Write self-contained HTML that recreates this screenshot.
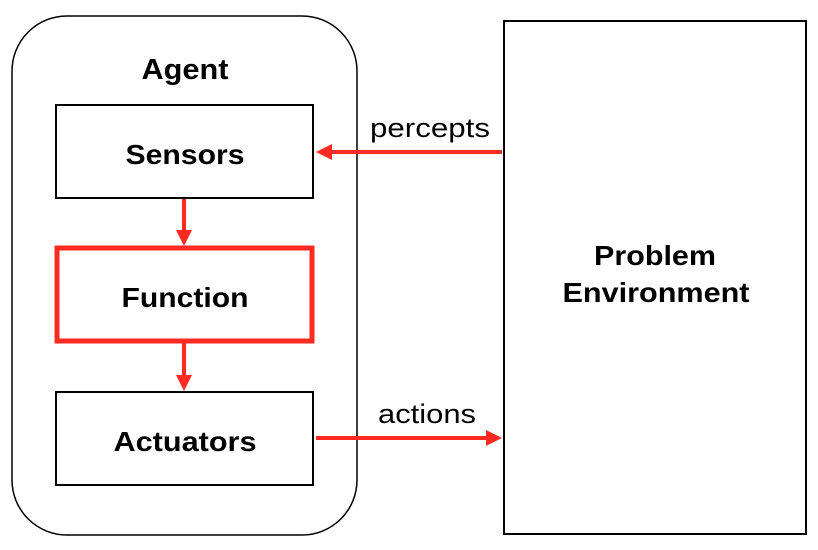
<!DOCTYPE html>
<html><head><style>body{margin:0;background:#fff}</style></head><body>
<svg width="818" height="545" xmlns="http://www.w3.org/2000/svg" font-family="Liberation Sans, Arial, sans-serif">
<rect x="12" y="16" width="345" height="519" rx="55" ry="55" fill="none" stroke="#000" stroke-width="1.5"/>
<text x="185" y="79" font-size="29" font-weight="bold" text-anchor="middle" textLength="87" lengthAdjust="spacingAndGlyphs">Agent</text>
<rect x="56" y="105" width="257" height="93" fill="none" stroke="#000" stroke-width="2"/>
<text x="185" y="164" font-size="28" font-weight="bold" text-anchor="middle" textLength="119" lengthAdjust="spacingAndGlyphs">Sensors</text>
<rect x="57" y="248" width="255" height="93" fill="none" stroke="#ff2a22" stroke-width="5"/>
<text x="185" y="307" font-size="28" font-weight="bold" text-anchor="middle" textLength="127" lengthAdjust="spacingAndGlyphs">Function</text>
<rect x="56" y="392" width="257" height="93" fill="none" stroke="#000" stroke-width="2"/>
<text x="185" y="451" font-size="28" font-weight="bold" text-anchor="middle" textLength="143" lengthAdjust="spacingAndGlyphs">Actuators</text>
<rect x="504" y="21" width="302" height="513" fill="none" stroke="#000" stroke-width="2"/>
<text x="655" y="265" font-size="28" font-weight="bold" text-anchor="middle" textLength="122" lengthAdjust="spacingAndGlyphs">Problem</text>
<text x="656" y="302" font-size="28" font-weight="bold" text-anchor="middle" textLength="187" lengthAdjust="spacingAndGlyphs">Environment</text>
<g stroke="#ff2a22" stroke-width="4" fill="#ff2a22">
<line x1="502" y1="152" x2="330" y2="152"/><polygon points="316,152 332,144 332,160" stroke="none"/>
<line x1="316" y1="438" x2="486" y2="438"/><polygon points="502,438 486,430 486,446" stroke="none"/>
<line x1="184" y1="199" x2="184" y2="232"/><polygon points="184,246 176,230 192,230" stroke="none"/>
<line x1="184" y1="343" x2="184" y2="377"/><polygon points="184,391 176,375 192,375" stroke="none"/>
</g>
<text x="430" y="137" font-size="27" text-anchor="middle" textLength="120" lengthAdjust="spacingAndGlyphs">percepts</text>
<text x="427" y="423" font-size="27" text-anchor="middle" textLength="98" lengthAdjust="spacingAndGlyphs">actions</text>
</svg>
</body></html>
